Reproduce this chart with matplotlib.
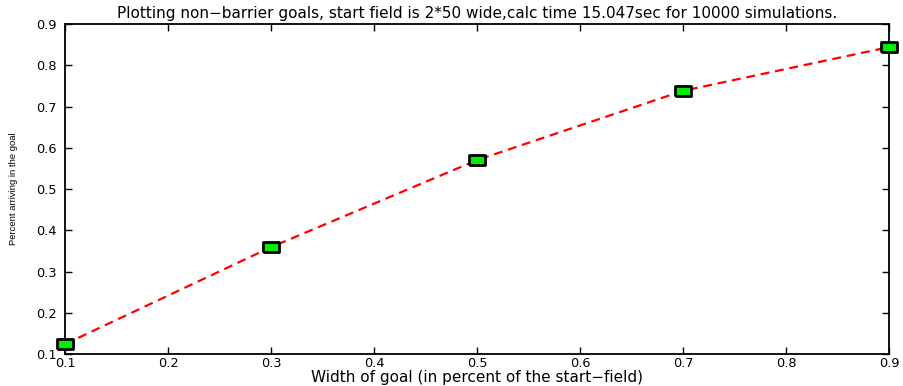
import matplotlib.pyplot as plt
from matplotlib import font_manager
from matplotlib.markers import MarkerStyle

# ancho de la meta vs fraccion que llega
anchos = [0.1, 0.3, 0.5, 0.7, 0.9]
porcentaje_llegada = [0.124, 0.359, 0.570, 0.738, 0.844]

ticks = [0.1, 0.2, 0.3, 0.4, 0.5, 0.6, 0.7, 0.8, 0.9]

titulo = "Plotting non\u2212barrier goals, start field is 2*50 wide,calc time 15.047sec for 10000 simulations."
etiqueta_x = "Width of goal (in percent of the start\u2212field)"
etiqueta_y = "Percent arriving in the goal"

plt.rcParams['font.family'] = ['DejaVu Sans']

fig = plt.figure(figsize=(9.04, 3.86), dpi=100)
ax = fig.add_axes([0.0719, 0.0829, 0.9115, 0.8549])

# marcador rectangular (mas ancho que alto), esquinas rectas
rect = MarkerStyle([(-1.6, -1), (1.6, -1), (1.6, 1), (-1.6, 1), (-1.6, -1)], joinstyle='miter')
ax.plot(anchos, porcentaje_llegada, color='red', linestyle=(0, (4, 2.6)), linewidth=1.6,
        marker=rect, markersize=12, markerfacecolor='#00ee00', markeredgecolor='black',
        markeredgewidth=2, clip_on=False, zorder=3)

ax.set_xlim(0.1, 0.9)
ax.set_ylim(0.1, 0.9)
ax.set_xticks(ticks)
ax.set_yticks(ticks)
ax.set_xticklabels([f"{t:.1f}" for t in ticks])
ax.set_yticklabels([f"{t:.1f}" for t in ticks])
ax.tick_params(direction='in', top=True, right=True, length=5, width=1, labelsize=9.3)
ax.tick_params(axis='x', pad=2)
ax.tick_params(axis='y', pad=6)
for lado in ax.spines.values():
    lado.set_linewidth(1.3)

ax.set_title(titulo, fontsize=11, pad=4)
ax.set_xlabel(etiqueta_x, fontsize=11, labelpad=0)

nombres = [f.name for f in font_manager.fontManager.ttflist]
fuente_y = 'Liberation Sans Narrow' if 'Liberation Sans Narrow' in nombres else 'Liberation Sans'
ax.set_ylabel(etiqueta_y, fontsize=6.8, family=[fuente_y, 'DejaVu Sans'], labelpad=13)

fig.savefig("out.png", dpi=100)
plt.close()
